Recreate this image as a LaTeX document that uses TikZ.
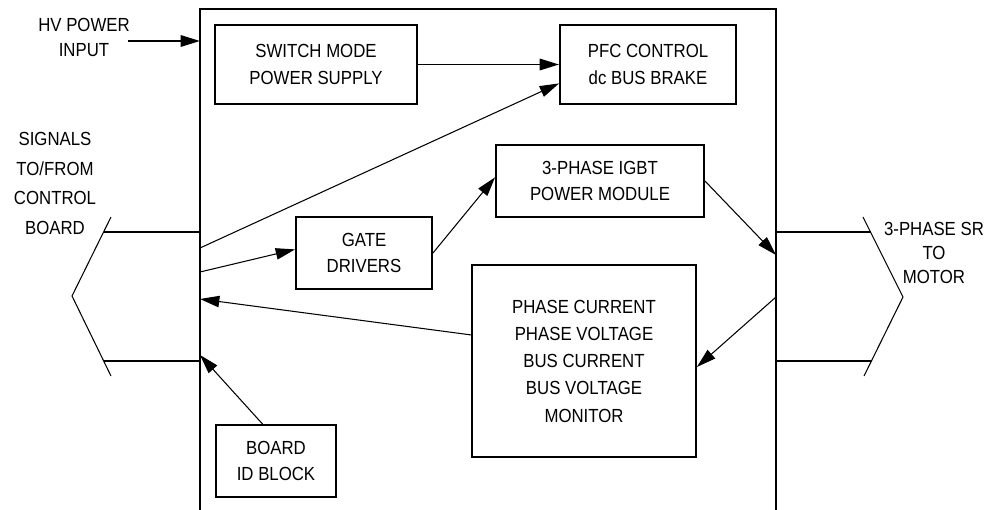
\documentclass[tikz,border=0pt]{standalone}
\usepackage{fontspec}
\setmainfont{Liberation Sans}[FakeStretch=0.885]
\usetikzlibrary{arrows.meta}
\begin{document}
\begin{tikzpicture}[x=0.02cm,y=-0.02cm,
  >={Triangle[length=11pt,width=6.5pt]},
  font=\fontsize{10.8}{15.3}\selectfont,
  blk/.style={draw,line width=1.1pt,align=center,inner sep=0pt},
  lbl/.style={align=center,inner sep=0pt},
  sig/.style={->,line width=0.6pt}]
\useasboundingbox (0,0) rectangle (997,510);
% board outline
\draw[line width=1.3pt] (200,510) -- (200,9) -- (776,9) -- (776,510);
% blocks
\node[blk,minimum width=4.04cm,minimum height=1.58cm] (smps) at (316,64.5) {SWITCH MODE\\POWER SUPPLY};
\node[blk,minimum width=3.52cm,minimum height=1.58cm] (pfc) at (648,64.5) {PFC CONTROL\\dc BUS BRAKE};
\node[blk,minimum width=4.16cm,minimum height=1.44cm] (igbt) at (600,181) {3-PHASE IGBT\\POWER MODULE};
\node[blk,minimum width=2.72cm,minimum height=1.44cm] (gate) at (364,253) {GATE\\DRIVERS};
\node[blk,minimum width=4.48cm,minimum height=3.84cm,font=\fontsize{10.8}{15.5}\selectfont] (mon) at (584,361)
  {PHASE CURRENT\\PHASE VOLTAGE\\BUS CURRENT\\BUS VOLTAGE\\MONITOR};
\node[blk,minimum width=2.4cm,minimum height=1.44cm] (bid) at (276,461) {BOARD\\ID BLOCK};
% outside labels
\node[lbl,font=\fontsize{10.8}{14.2}\selectfont] (hv) at (84,37.5) {HV POWER\\INPUT};
\node[lbl,font=\fontsize{10.8}{17}\selectfont] (ctl) at (55,183.5) {SIGNALS\\TO/FROM\\CONTROL\\BOARD};
\node[lbl,font=\fontsize{10.8}{13.6}\selectfont] (mot) at (934,253) {3-PHASE SR\\TO\\MOTOR};
% edge points
\coordinate (hvs) at (128,41);
\coordinate (hvin) at (200,41);
\coordinate (cb1) at (200,248);
\coordinate (cb2) at (200,272);
\coordinate (cb3) at (200,299);
\coordinate (cb4) at (200,355);
\coordinate (mo1) at (776,255);
\coordinate (mo2) at (776,297);
% connectors
\draw[->,line width=1.1pt] (hvs) -- (hvin);
\draw[->,line width=1.1pt] (smps.east) -- (pfc.west);
\draw[sig] (cb1) -- (pfc.192);
\draw[sig] (cb2) -- (gate.177);
\draw[sig] (gate.east) -- (igbt.178);
\draw[sig] (igbt.east) -- (mo1);
\draw[sig] (mo2) -- (mon.357);
\draw[sig] (mon.167) -- (cb3);
\draw[sig] (bid.110) -- (cb4);
% control board plug
\draw[line width=1.1pt] (104,232) -- (200,232);
\draw[line width=1.1pt] (104,361) -- (200,361);
\draw[line width=0.6pt] (111,217) -- (72,296) -- (111,376);
% motor plug
\draw[line width=1.1pt] (776,232) -- (871,232);
\draw[line width=1.1pt] (776,361) -- (871,361);
\draw[line width=0.6pt] (863,217) -- (903,297) -- (864,376);
\end{tikzpicture}
\end{document}
